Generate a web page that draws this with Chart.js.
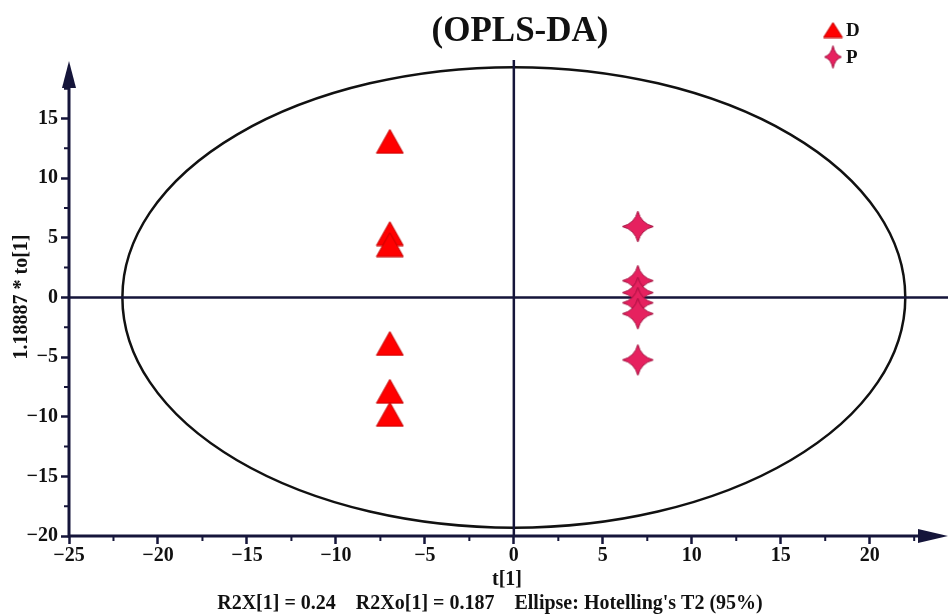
<!DOCTYPE html>
<html>
<head>
<meta charset="utf-8">
<title>OPLS-DA</title>
<script src="https://cdn.jsdelivr.net/npm/chart.js@4.4.1/dist/chart.umd.min.js"></script>
<style>
  html, body { margin: 0; padding: 0; background: #fff; overflow: hidden; }
  #chart { display: block; }
</style>
</head>
<body>
<canvas id="chart" width="948" height="615"></canvas>
<script>
// Scores
const groupD_x = [-6.97, -6.97, -6.97, -6.97, -6.97, -6.97];
const groupD_y = [13.08, 5.35, 4.42, -3.86, -7.87, -9.80];
const groupP_x = [6.97, 6.97, 6.97, 6.97, 6.97, 6.97];
const groupP_y = [5.94, 1.40, 0.40, -0.45, -1.37, -5.24];

const groupLabels = ["D", "P"];
const ellipseRadii = [22.0, 19.3]; // Hotelling's T2 (95%) in t[1] / to[1] units
const xTickStep = 2.5, yTickStep = 2.5, labelEvery = 5;

const chartTitle = "(OPLS-DA)";
const xTitle = "t[1]";
const yTitle = "1.18887 * to[1]";
const footer = "R2X[1] = 0.24    R2Xo[1] = 0.187    Ellipse: Hotelling's T2 (95%)";

const NAVY = "#15153a";
const FONT = "'Liberation Serif', 'Times New Roman', serif";

// ✅ marker images
function triangleCanvas(w, h, fill, stroke) {
  const c = document.createElement("canvas");
  c.width = w; c.height = h;
  const g = c.getContext("2d");
  g.beginPath();
  g.moveTo(w / 2, 1);
  g.lineTo(w - 1, h - 1);
  g.lineTo(1, h - 1);
  g.closePath();
  g.fillStyle = fill; g.fill();
  g.strokeStyle = stroke; g.lineWidth = 1; g.stroke();
  return c;
}

function starCanvas(w, h, fill, stroke) {
  const c = document.createElement("canvas");
  c.width = w; c.height = h;
  const g = c.getContext("2d");
  const cx = w / 2, cy = h / 2, rx = w / 2 - 1, ry = h / 2 - 1, k = 0.2;
  g.beginPath();
  g.moveTo(cx, cy - ry);
  g.quadraticCurveTo(cx + rx * k, cy - ry * k, cx + rx, cy);
  g.quadraticCurveTo(cx + rx * k, cy + ry * k, cx, cy + ry);
  g.quadraticCurveTo(cx - rx * k, cy + ry * k, cx - rx, cy);
  g.quadraticCurveTo(cx - rx * k, cy - ry * k, cx, cy - ry);
  g.closePath();
  g.fillStyle = fill; g.fill();
  g.strokeStyle = stroke; g.lineWidth = 1; g.stroke();
  return c;
}

const triFill = "#ff0000", triStroke = "#c40000";
const starFill = "#e6215f", starStroke = "#a3103f";
const triBig = triangleCanvas(29, 26, triFill, triStroke);
const starBig = starCanvas(33, 33, starFill, starStroke);
const triSmall = triangleCanvas(21, 17, triFill, triStroke);
const starSmall = starCanvas(19, 25, starFill, starStroke);

function fmt(v) {
  return v < 0 ? "\u2212" + Math.abs(v) : String(v);
}
function isMajor(v) {
  return Math.abs(v / labelEvery - Math.round(v / labelEvery)) < 1e-6;
}

// ✅ ellipse, cross lines, axes with arrows, minor ticks, texts
const decorPlugin = {
  id: "decor",
  beforeDatasetsDraw(chart) {
    const { ctx, chartArea: a, scales: { x, y } } = chart;
    const cx = x.getPixelForValue(0), cy = y.getPixelForValue(0);
    ctx.save();

    // Hotelling ellipse
    ctx.beginPath();
    ctx.ellipse(cx, cy,
      x.getPixelForValue(ellipseRadii[0]) - cx,
      cy - y.getPixelForValue(ellipseRadii[1]), 0, 0, Math.PI * 2);
    ctx.strokeStyle = "#111";
    ctx.lineWidth = 2.5;
    ctx.stroke();

    // cross lines through origin
    ctx.strokeStyle = NAVY;
    ctx.lineWidth = 2.5;
    ctx.beginPath();
    ctx.moveTo(a.left, cy); ctx.lineTo(a.right, cy);
    ctx.moveTo(cx, a.top); ctx.lineTo(cx, a.bottom);
    ctx.stroke();

    // axes
    ctx.lineWidth = 3;
    ctx.beginPath();
    ctx.moveTo(a.left, a.bottom + 1.5); ctx.lineTo(a.left, a.top + 20);
    ctx.moveTo(a.left - 1.5, a.bottom); ctx.lineTo(a.right - 22, a.bottom);
    ctx.stroke();
    ctx.fillStyle = NAVY;
    ctx.beginPath();
    ctx.moveTo(a.left, a.top + 1);
    ctx.lineTo(a.left + 7, a.top + 28);
    ctx.lineTo(a.left - 7, a.top + 28);
    ctx.closePath();
    ctx.fill();
    ctx.beginPath();
    ctx.moveTo(a.right, a.bottom);
    ctx.lineTo(a.right - 30, a.bottom - 7);
    ctx.lineTo(a.right - 30, a.bottom + 7);
    ctx.closePath();
    ctx.fill();

    // minor ticks
    ctx.lineWidth = 2;
    ctx.beginPath();
    x.ticks.forEach(t => {
      if (isMajor(t.value)) return;
      const px = x.getPixelForValue(t.value);
      ctx.moveTo(px, a.bottom); ctx.lineTo(px, a.bottom + 5);
    });
    y.ticks.forEach(t => {
      if (isMajor(t.value)) return;
      const py = y.getPixelForValue(t.value);
      ctx.moveTo(a.left, py); ctx.lineTo(a.left - 5, py);
    });
    ctx.stroke();
    ctx.restore();
  },
  afterDraw(chart) {
    const { ctx } = chart;
    ctx.save();
    ctx.fillStyle = "#111";
    ctx.textBaseline = "middle";

    // title
    ctx.textAlign = "center";
    ctx.font = "bold 35px " + FONT;
    ctx.fillText(chartTitle, 520, 32);

    // axis titles and footer
    ctx.font = "bold 20px " + FONT;
    ctx.fillText(xTitle, 507, 580);
    ctx.fillText(footer, 490, 604, 558);
    ctx.save();
    ctx.translate(22, 297);
    ctx.rotate(-Math.PI / 2);
    ctx.fillText(yTitle, 0, 0);
    ctx.restore();

    // legend
    const marks = [triSmall, starSmall];
    const rows = [30, 57];
    ctx.textAlign = "left";
    ctx.font = "bold 19px " + FONT;
    groupLabels.forEach((lab, i) => {
      const m = marks[i];
      ctx.drawImage(m, 833 - m.width / 2, rows[i] - m.height / 2);
      ctx.fillText(lab, 846, rows[i] + 1);
    });
    ctx.restore();
  }
};

const tickFont = { family: FONT, size: 20, weight: "bold" };

new Chart(document.getElementById("chart"), {
  type: "scatter",
  data: {
    datasets: [
      {
        label: groupLabels[0],
        data: groupD_x.map((v, i) => ({ x: v, y: groupD_y[i] })),
        pointStyle: triBig,
        pointRadius: 14,
        pointHoverRadius: 14
      },
      {
        label: groupLabels[1],
        data: groupP_x.map((v, i) => ({ x: v, y: groupP_y[i] })),
        pointStyle: starBig,
        pointRadius: 16,
        pointHoverRadius: 16
      }
    ]
  },
  options: {
    responsive: false,
    animation: false,
    layout: { autoPadding: false, padding: { top: 60, right: 0, bottom: 0, left: 0 } },
    plugins: {
      legend: { display: false },
      title: { display: false },
      tooltip: { enabled: false }
    },
    scales: {
      x: {
        type: "linear",
        min: -25,
        max: 24.4,
        afterFit: s => { s.height = 79; s.paddingLeft = 0; s.paddingRight = 0; },
        border: { display: false },
        grid: {
          drawOnChartArea: false,
          tickLength: 8,
          tickWidth: 2.5,
          tickColor: c => (c.tick && isMajor(c.tick.value)) ? NAVY : "rgba(0,0,0,0)"
        },
        ticks: {
          stepSize: xTickStep,
          includeBounds: false,
          autoSkip: false,
          maxRotation: 0,
          padding: 0,
          color: "#111",
          font: tickFont,
          callback: v => isMajor(v) ? fmt(v) : ""
        }
      },
      y: {
        type: "linear",
        min: -20,
        max: 19.9,
        afterFit: s => { s.width = 69; s.paddingTop = 0; s.paddingBottom = 0; },
        border: { display: false },
        grid: {
          drawOnChartArea: false,
          tickLength: 8,
          tickWidth: 2.5,
          tickColor: c => (c.tick && isMajor(c.tick.value)) ? NAVY : "rgba(0,0,0,0)"
        },
        ticks: {
          stepSize: yTickStep,
          includeBounds: false,
          autoSkip: false,
          padding: 3,
          color: "#111",
          font: tickFont,
          callback: v => isMajor(v) ? fmt(v) : ""
        }
      }
    }
  },
  plugins: [decorPlugin]
});
</script>
</body>
</html>
